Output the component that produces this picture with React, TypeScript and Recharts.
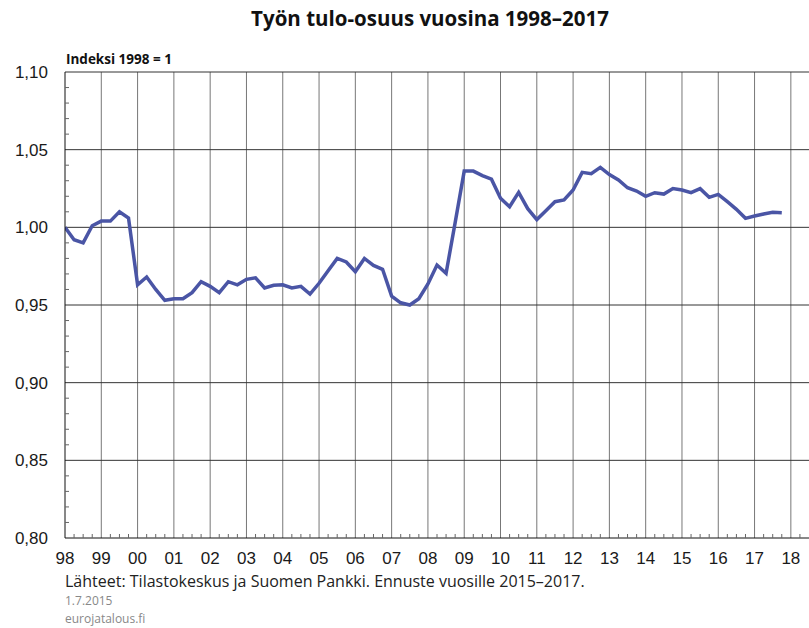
import { Line, LineChart, ReferenceLine, XAxis, YAxis } from "recharts";

// Quarterly index, 1998Q1 ... 2017Q4 (1998 = 1)
const values = [
  1.0, 0.992, 0.99, 1.001, 1.004, 1.004, 1.01, 1.006,
  0.963, 0.968, 0.96, 0.953, 0.954, 0.954, 0.958, 0.965,
  0.962, 0.958, 0.965, 0.963, 0.9665, 0.9675, 0.961, 0.9627,
  0.963, 0.961, 0.962, 0.957, 0.964, 0.972, 0.98, 0.9777,
  0.9714, 0.98, 0.9755, 0.973, 0.9557, 0.9514, 0.95, 0.954,
  0.9635, 0.9757, 0.9704, 1.003, 1.0362, 1.0362, 1.0333, 1.031,
  1.0187, 1.0133, 1.0225, 1.012, 1.005, 1.0107, 1.0165, 1.0176,
  1.024, 1.0354, 1.0345, 1.0386, 1.034, 1.0305, 1.0255, 1.0234,
  1.02, 1.0223, 1.0214, 1.025, 1.024, 1.0223, 1.0249, 1.0193,
  1.0212, 1.0165, 1.0116, 1.0058, 1.0073, 1.0086, 1.0097, 1.0094,
];

const yearLabels = [
  "98", "99", "00", "01", "02", "03", "04", "05", "06", "07",
  "08", "09", "10", "11", "12", "13", "14", "15", "16", "17", "18",
];

const yTicks = [0.8, 0.85, 0.9, 0.95, 1.0, 1.05, 1.1];
const yAllTicks = [
  0.8, 0.81, 0.82, 0.83, 0.84, 0.85, 0.86, 0.87, 0.88, 0.89, 0.9, 0.91,
  0.92, 0.93, 0.94, 0.95, 0.96, 0.97, 0.98, 0.99, 1.0, 1.01, 1.02, 1.03,
  1.04, 1.05, 1.06, 1.07, 1.08, 1.09, 1.1,
];

const data = values.map((v, i) => ({ t: i / 4, v }));
const xTicks = yearLabels.map((_, i) => i);
const xAllTicks = Array.from({ length: 82 }, (_, i) => i / 4);

const W = 809;
const H = 575;
const LABEL = { fontFamily: "Liberation Sans", fontSize: 17, fill: "#1a1a1a" };

function XTick({ x, y, payload }: any) {
  const t = Number(payload.value);
  const major = Number.isInteger(t);
  return (
    <g>
      {!major && <line x1={x} x2={x} y1={y} y2={y - 4} stroke="#666" />}
      {major && (
        <text x={x} y={y + 14} dy="0.71em" textAnchor="middle" {...LABEL}>
          {yearLabels[t]}
        </text>
      )}
    </g>
  );
}

function YTick({ x, y, payload }: any) {
  const v = Number(payload.value);
  const major = yTicks.some((m) => Math.abs(m - v) < 1e-6);
  return (
    <g>
      {!major && <line x1={x} x2={x + 4} y1={y} y2={y} stroke="#666" />}
      {major && (
        <text x={x - 17} y={y} dy="0.355em" textAnchor="end" {...LABEL}>
          {v.toFixed(2).replace(".", ",")}
        </text>
      )}
    </g>
  );
}

export default function App() {
  return (
    <div
      style={{
        position: "absolute",
        top: 0,
        left: 0,
        width: W,
        height: 628,
        background: "#fff",
        overflow: "hidden",
      }}
    >
      <div
        style={{
          position: "absolute",
          top: 4,
          left: 0,
          width: 860,
          textAlign: "center",
          fontFamily: "Open Sans",
          fontWeight: 700,
          fontSize: 20.5,
          color: "#111",
        }}
      >
        Työn tulo-osuus vuosina 1998–2017
      </div>
      <div
        style={{
          position: "absolute",
          top: 50,
          left: 66,
          fontFamily: "Open Sans",
          fontWeight: 700,
          fontSize: 13.5,
          color: "#111",
        }}
      >
        Indeksi 1998 = 1
      </div>

      <LineChart
        width={W}
        height={H}
        data={data}
        margin={{ top: 72, right: 0, left: 0, bottom: 0 }}
      >
        <XAxis
          type="number"
          dataKey="t"
          domain={[0, 20.5]}
          allowDataOverflow
          ticks={xAllTicks}
          interval={0}
          height={37}
          tickSize={0}
          tickMargin={0}
          tickLine={false}
          axisLine={{ stroke: "#111" }}
          tick={<XTick />}
        />
        <YAxis
          type="number"
          domain={[0.8, 1.1]}
          allowDataOverflow
          ticks={yAllTicks}
          interval={0}
          width={65}
          tickSize={0}
          tickMargin={0}
          tickLine={false}
          axisLine={{ stroke: "#111" }}
          tick={<YTick />}
        />
        {xTicks.slice(1).map((t) => (
          <ReferenceLine key={`x${t}`} x={t} stroke="#777" strokeWidth={1} />
        ))}
        {yTicks.slice(1).map((v) => (
          <ReferenceLine key={`y${v}`} y={v} stroke="#333" strokeWidth={1} />
        ))}
        <Line
          type="linear"
          dataKey="v"
          stroke="#4a55a5"
          strokeWidth={3.5}
          dot={false}
          isAnimationActive={false}
        />
      </LineChart>

      <div
        style={{
          position: "absolute",
          top: 570,
          left: 65,
          fontFamily: "Open Sans",
          fontSize: 16,
          color: "#222",
        }}
      >
        Lähteet: Tilastokeskus ja Suomen Pankki. Ennuste vuosille 2015–2017.
      </div>
      <div
        style={{
          position: "absolute",
          top: 592,
          left: 65,
          fontFamily: "Open Sans",
          fontSize: 12,
          color: "#888",
        }}
      >
        1.7.2015
      </div>
      <div
        style={{
          position: "absolute",
          top: 610,
          left: 65,
          fontFamily: "Open Sans",
          fontSize: 12,
          color: "#888",
        }}
      >
        eurojatalous.fi
      </div>
    </div>
  );
}
